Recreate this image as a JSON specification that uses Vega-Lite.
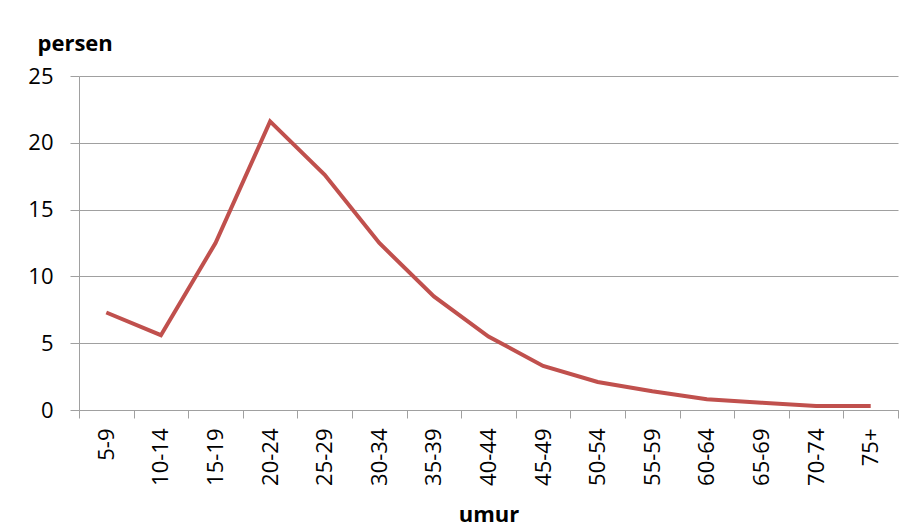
{
  "$schema": "https://vega.github.io/schema/vega-lite/v6.json",
  "width": 819,
  "height": 334,
  "autosize": {"type": "none"},
  "padding": {"left": 79, "top": 76, "right": 20, "bottom": 118},
  "background": "white",
  "config": {"view": {"stroke": null}, "font": "Open Sans"},
  "data": {"values": [
    {"umur": "5-9", "persen": 7.3},
    {"umur": "10-14", "persen": 5.6},
    {"umur": "15-19", "persen": 12.5},
    {"umur": "20-24", "persen": 21.6},
    {"umur": "25-29", "persen": 17.6},
    {"umur": "30-34", "persen": 12.5},
    {"umur": "35-39", "persen": 8.5},
    {"umur": "40-44", "persen": 5.5},
    {"umur": "45-49", "persen": 3.3},
    {"umur": "50-54", "persen": 2.1},
    {"umur": "55-59", "persen": 1.4},
    {"umur": "60-64", "persen": 0.8},
    {"umur": "65-69", "persen": 0.55},
    {"umur": "70-74", "persen": 0.3},
    {"umur": "75+", "persen": 0.3}
  ]},
  "mark": {"type": "line", "color": "#c0504d", "strokeWidth": 4, "strokeJoin": "miter"},
  "encoding": {
    "x": {
      "field": "umur", "type": "ordinal", "sort": null,
      "scale": {"paddingInner": 0, "paddingOuter": 0},
      "axis": {
        "title": "umur", "titleFont": "Open Sans", "titleFontSize": 22, "titleFontWeight": "bold",
        "titleColor": "#000", "titleY": 111, "titleBaseline": "alphabetic",
        "labelAngle": -90, "labelFontSize": 22, "labelColor": "#000", "labelPadding": 10,
        "tickBand": "extent", "tickSize": 8, "tickColor": "#a0a0a0", "domainColor": "#a0a0a0",
        "grid": false
      }
    },
    "y": {
      "field": "persen", "type": "quantitative",
      "scale": {"domain": [0, 25]},
      "axis": {
        "values": [0, 5, 10, 15, 20, 25],
        "title": "persen", "titleAngle": 0, "titleAlign": "left", "titleBaseline": "alphabetic",
        "titleX": -42, "titleY": -26, "titleFontSize": 22, "titleFontWeight": "bold", "titleColor": "#000",
        "labelFontSize": 22, "labelColor": "#000", "labelPadding": 17,
        "tickSize": 9, "tickColor": "#a0a0a0", "domainColor": "#a0a0a0",
        "grid": true, "gridColor": "#a0a0a0"
      }
    }
  }
}
